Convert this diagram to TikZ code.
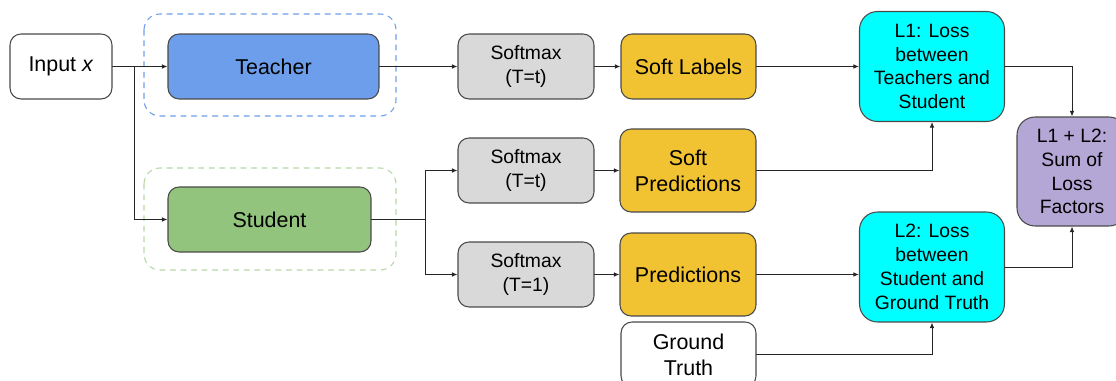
\documentclass[tikz,border=0pt]{standalone}
\usepackage{fontspec}
\setmainfont{Liberation Sans}
\usetikzlibrary{arrows.meta}
\definecolor{teacherBlue}{HTML}{6D9EEB}
\definecolor{studentGreen}{HTML}{93C47D}
\definecolor{smaxGray}{HTML}{D9D9D9}
\definecolor{outYellow}{HTML}{F1C232}
\definecolor{lossCyan}{HTML}{00FFFF}
\definecolor{sumPurple}{HTML}{B4A7D6}
\definecolor{edgeGray}{HTML}{4A4A4A}
\definecolor{dashGreen}{HTML}{B6D7A8}

\begin{document}
\begin{tikzpicture}[x=0.02cm, y=-0.02cm, line cap=round,
		box/.style={draw=edgeGray, line width=0.6pt, rounded corners=0.22cm, align=center, inner sep=0pt, font=\fontsize{12.2}{14.8}\selectfont},
		smallbox/.style={box, font=\fontsize{11}{13.6}\selectfont},
		lossbox/.style={smallbox, rounded corners=0.36cm, fill=lossCyan, minimum width=2.9cm, minimum height=2.2cm},
		frame/.style={dashed, line width=0.6pt, rounded corners=0.32cm},
		wire/.style={draw=black!85, line width=0.5pt},
		arr/.style={wire, -{Latex[length=1.1mm,width=0.9mm]}}]
		\path[use as bounding box, clip] (0,0) rectangle (1116,381);
		
		% teacher and student
		\draw[frame, teacherBlue] (144,14) rectangle (396,116);
		\draw[frame, dashGreen] (144,168) rectangle (396,270);
		\node[box, minimum width=2.04cm, minimum height=1.3cm] (input) at (61,66.5) {Input \textit{x}};
		\node[box, fill=teacherBlue, minimum width=4.22cm, minimum height=1.3cm] (teacher) at (273.5,66.5) {Teacher};
		\node[box, fill=studentGreen, minimum width=4.06cm, minimum height=1.3cm] (student) at (269.5,219.5) {Student};
		
		% softmax
		\node[smallbox, fill=smaxGray, minimum width=2.72cm, minimum height=1.3cm] (smaxT) at (526,66.5) {Softmax\\(T=t)};
		\node[smallbox, fill=smaxGray, minimum width=2.72cm, minimum height=1.3cm] (smaxS) at (526,170.5) {Softmax\\(T=t)};
		\node[smallbox, fill=smaxGray, minimum width=2.72cm, minimum height=1.3cm] (smaxP) at (526,274.5) {Softmax\\(T=1)};
		
		% outputs
		\node[box, fill=outYellow, minimum width=2.7cm, minimum height=1.3cm] (labels) at (688.5,66.5) {Soft Labels};
		\node[box, fill=outYellow, minimum width=2.72cm, minimum height=1.66cm] (softpred) at (688,170.5) {Soft\\Predictions};
		\node[box, fill=outYellow, minimum width=2.72cm, minimum height=1.66cm] (pred) at (688,274.5) {Predictions};
		\node[box, minimum width=2.7cm, minimum height=1.3cm] (truth) at (688.5,354.5) {Ground\\Truth};
		
		% losses
		\node[lossbox] (lossA) at (932,66.5) {L1: Loss\\between\\Teachers and\\Student};
		\node[lossbox] (lossB) at (932,267) {L2: Loss\\between\\Student and\\Ground Truth};
		\node[smallbox, rounded corners=0.36cm, fill=sumPurple, minimum width=2.2cm, minimum height=2.18cm] (sum) at (1072,171.5) {L1 + L2:\\Sum of\\Loss\\Factors};
		
		% wires
		\coordinate (split) at (134,66.5);
		\coordinate (fork) at (425,219.5);
		\draw[wire] (input) -- (split);
		\draw[arr] (split) -- (teacher);
		\draw[arr] (split) |- (student);
		\draw[arr] (teacher) -- (smaxT);
		\draw[wire] (student) -- (fork);
		\draw[arr] (fork) |- (smaxS);
		\draw[arr] (fork) |- (smaxP);
		\draw[arr] (smaxT) -- (labels);
		\draw[arr] (smaxS) -- (softpred);
		\draw[arr] (smaxP) -- (pred);
		\draw[arr] (labels) -- (lossA);
		\draw[arr] (softpred) -| (lossA);
		\draw[arr] (pred.east) -- (pred.east -| lossB.west);
		\draw[arr] (truth) -| (lossB);
		\draw[arr] (lossA) -| (sum);
		\draw[arr] (lossB) -| (sum);
\end{tikzpicture}
\end{document}
